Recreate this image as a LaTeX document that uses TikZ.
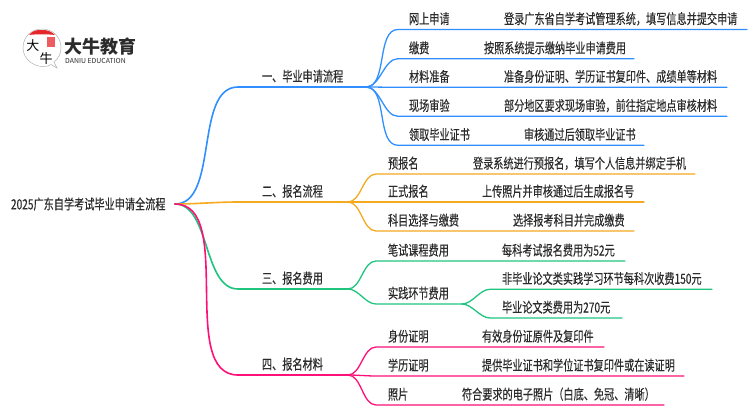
\documentclass[tikz,border=0pt]{standalone}
\usepackage{fontspec}
\setmainfont[FakeStretch=0.725,FakeBold=0.2]{Noto Sans CJK SC}
\newfontfamily\logofont{Noto Sans CJK SC}
\definecolor{cblue}{HTML}{2F8FFF}
\definecolor{corange}{HTML}{F5A91F}
\definecolor{cgreen}{HTML}{1FC47F}
\definecolor{cpink}{HTML}{FF1078}
\definecolor{ink}{HTML}{2B2B2B}
\definecolor{logored}{HTML}{E5262B}
\tikzset{
  txt/.style={anchor=base west,inner sep=0pt,outer sep=0pt,text=ink,font=\fontsize{14}{15}\selectfont},
  branchline/.style={line width=1.6pt,line cap=round},
  leafline/.style={line width=1.3pt,line cap=round},
  sc/.style={out=0,in=180,looseness=0.85},
}
\begin{document}
\begin{tikzpicture}[x=1pt,y=-1pt]
\useasboundingbox (0,0) rectangle (750,410);
% logo
\draw[black!30,line width=0.5pt,fill=white] (57,68) -- (51,64.5) -- (48,66) .. controls (36,69) and (23,60) .. (23,48) .. controls (23,37) and (31,29) .. (42,29) .. controls (53,29) and (61,37) .. (61,48) .. controls (61,54) and (58,59) .. (54,62) -- cycle;
\fill[logored] (29,35) .. controls (33,30) and (37,30) .. (42,30) .. controls (47,30) and (51,31) .. (55,35) .. controls (47,34) and (37,34) .. (29,35) -- cycle;
\fill[logored!75] (47,37) rectangle (55,47);
\node[inner sep=0pt,text=black] (lg1) at (33,45.5) {\logofont\fontsize{13}{13}\selectfont 大};
\node[inner sep=0pt,text=black] (lg2) at (46,58.5) {\logofont\fontsize{13}{13}\selectfont 牛};
\node[anchor=base west,inner sep=0pt,text=ink] (lg3) at (64,53.5) {\logofont\bfseries\fontsize{18}{18}\selectfont 大牛教育};
\node[anchor=base west,inner sep=0pt,text=ink] (lg4) at (65,63) {\logofont\fontsize{6.9}{7}\selectfont DANIU EDUCATION};
% root
\node[txt,anchor=west] (root) at (11,204) {2025广东自学考试毕业申请全流程};
\coordinate (r) at (175,204);
% branches
\coordinate (b1s) at (238,87);  \coordinate (j1) at (366,87);
\coordinate (b2s) at (238,202); \coordinate (j2) at (348,202);
\coordinate (b3s) at (238,289); \coordinate (j3) at (348,289);
\coordinate (b4s) at (238,375); \coordinate (j4) at (348,375);
\draw[branchline,cblue] (r) to[sc] (b1s) -- (j1);
\draw[branchline,corange] (r) to[sc] (b2s) -- (j2);
\draw[branchline,cgreen] (r) to[sc] (b3s) -- (j3);
\draw[branchline,cpink] (r) to[sc] (b4s) -- (j4);
\node[txt] (t1) at (262,81.5) {一、毕业申请流程};
\node[txt] (t2) at (262,196.5) {二、报名流程};
\node[txt] (t3) at (262,283.5) {三、报名费用};
\node[txt] (t4) at (262,369.5) {四、报名材料};
% leaves: id / colour / parent / line start / line end / y / label x / label / detail x / detail
\foreach \id/\col/\up/\sx/\ex/\yy/\lx/\lab/\dx/\det in {
 a/cblue/j1/398/747/29.5/409/网上申请/504/{登录广东省自学考试管理系统，填写信息并提交申请},
 b/cblue/j1/398/634/58.7/409/缴费/484/按照系统提示缴纳毕业申请费用,
 c/cblue/j1/398/727/87.3/409/材料准备/504/准备身份证明、学历证书复印件、成绩单等材料,
 d/cblue/j1/398/727/116.3/409/现场审验/504/{部分地区要求现场审验，前往指定地点审核材料},
 e/cblue/j1/398/644/145.3/409/领取毕业证书/524/审核通过后领取毕业证书,
 f/corange/j2/376/695/174/388/预报名/473/{登录系统进行预报名，填写个人信息并绑定手机},
 g/corange/j2/376/644/202/388/正式报名/482/上传照片并审核通过后生成报名号,
 h/corange/j2/376/634/231/388/科目选择与缴费/513/选择报考科目并完成缴费,
 i/cgreen/j3/376/625/261/388/笔试课程费用/502/每科考试报名费用为52元,
 k/cpink/j4/376/604/347/388/身份证明/482/有效身份证原件及复印件,
 l/cpink/j4/376/684/376/388/学历证明/482/提供毕业证书和学位证书复印件或在读证明,
 m/cpink/j4/376/664/405/388/照片/462/{符合要求的电子照片（白底、免冠、清晰）}}
{
  \coordinate (\id s) at (\sx,\yy);
  \coordinate (\id e) at (\ex,\yy);
  \draw[leafline,\col] (\up) to[sc] (\id s) -- (\id e);
  \node[txt] (\id l) at (\lx,\yy-5.5) {\lab};
  \node[txt] (\id d) at (\dx,\yy-5.5) {\det};
}
% practice fees, with its own two children
\coordinate (ps) at (376,304); \coordinate (pe) at (462,304);
\draw[leafline,cgreen] (j3) to[sc] (ps) -- (pe);
\node[txt] (pl) at (388,298.5) {实践环节费用};
\coordinate (p1s) at (490,289.3); \coordinate (p1e) at (712,289.3);
\coordinate (p2s) at (490,318); \coordinate (p2e) at (622,318);
\draw[leafline,cgreen] (pe) to[sc] (p1s) -- (p1e);
\draw[leafline,cgreen] (pe) to[sc] (p2s) -- (p2e);
\node[txt] (p1d) at (502,283.8) {非毕业论文类实践学习环节每科次收费150元};
\node[txt] (p2d) at (502,312.5) {毕业论文类费用为270元};
\end{tikzpicture}
\end{document}
